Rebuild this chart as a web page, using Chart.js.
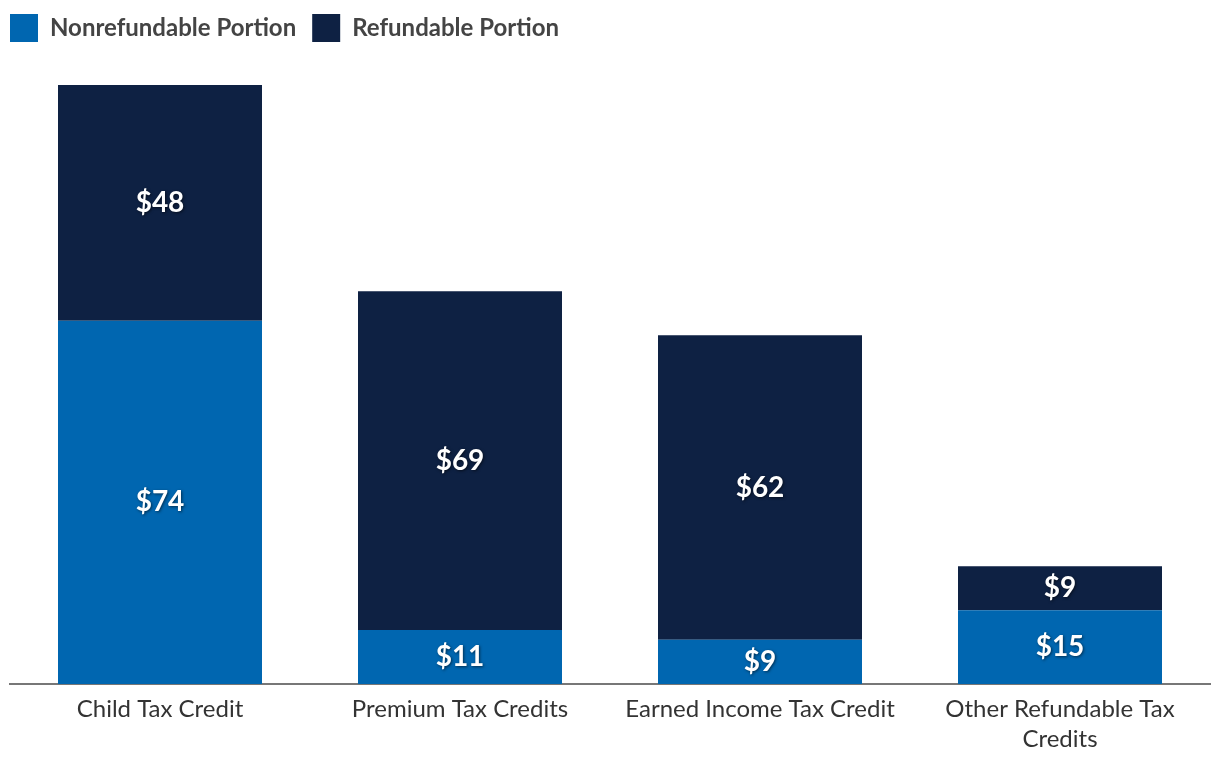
<!DOCTYPE html>
<html>
<head>
<meta charset="utf-8">
<script src="https://cdn.jsdelivr.net/npm/chart.js@4"></script>
<style>
  html, body { margin: 0; padding: 0; background: #fff; }
  #wrap { width: 1220px; height: 770px; }
</style>
</head>
<body>
<div id="wrap"><canvas id="c" width="1220" height="770"></canvas></div>
<script>
const categories = ['Child Tax Credit', 'Premium Tax Credits', 'Earned Income Tax Credit', ['Other Refundable Tax', 'Credits']];
const nonrefundable = [74, 11, 9, 15];
const refundable = [48, 69, 62, 9];
const seriesNames = ['Nonrefundable Portion', 'Refundable Portion'];

const FONT = 'Lato, "Open Sans", sans-serif';

const labelPlugin = {
  id: 'segLabels',
  afterDatasetsDraw(chart) {
    const ctx = chart.ctx;
    ctx.save();
    ctx.font = 'bold 28px ' + FONT;
    ctx.fillStyle = '#ffffff';
    ctx.textAlign = 'center';
    ctx.textBaseline = 'middle';
    ctx.shadowColor = 'rgba(0,0,0,0.55)';
    ctx.shadowBlur = 3;
    ctx.shadowOffsetX = 1;
    ctx.shadowOffsetY = 1;
    chart.data.datasets.forEach((ds, di) => {
      const meta = chart.getDatasetMeta(di);
      meta.data.forEach((bar, i) => {
        const v = ds.data[i];
        const yc = (bar.y + bar.base) / 2;
        ctx.fillText('$' + v, bar.x, yc);
      });
    });
    ctx.restore();
  }
};

const legendShift = {
  id: 'legendShift',
  afterLayout(chart) {
    const lg = chart.legend;
    if (lg) { lg.left -= 16; lg.right -= 16; lg.top -= 2; lg.bottom -= 2; }
  }
};

new Chart(document.getElementById('c'), {
  type: 'bar',
  data: {
    labels: categories,
    datasets: [
      { label: seriesNames[0], data: nonrefundable, backgroundColor: '#0066b0' },
      { label: seriesNames[1], data: refundable, backgroundColor: '#0e2143' }
    ]
  },
  options: {
    responsive: false,
    animation: false,
    layout: { padding: { left: 10, right: 10, top: 0, bottom: 6 } },
    datasets: { bar: { categoryPercentage: 1, barPercentage: 0.68 } },
    plugins: {
      legend: {
        position: 'top',
        align: 'start',
        labels: {
          boxWidth: 28,
          boxHeight: 28,
          padding: 16,
          color: '#444444',
          font: { family: FONT, size: 24, weight: 'bold' }
        }
      },
      tooltip: { enabled: false },
      title: { display: false }
    },
    scales: {
      x: {
        stacked: true,
        grid: { display: false, drawTicks: false },
        border: { display: true, color: '#777777', width: 2 },
        ticks: {
          color: '#333333',
          padding: 10,
          maxRotation: 0,
          autoSkip: false,
          font: { family: FONT, size: 24, lineHeight: 1.25 }
        }
      },
      y: {
        stacked: true,
        display: false,
        min: 0,
        max: 128.3
      }
    }
  },
  plugins: [labelPlugin, legendShift]
});
</script>
</body>
</html>
